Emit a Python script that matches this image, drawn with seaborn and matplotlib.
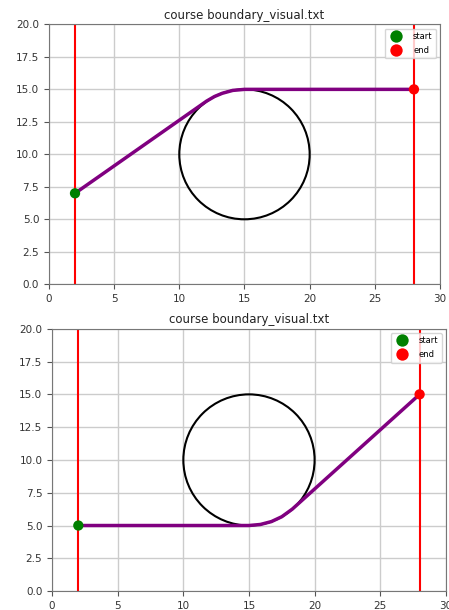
import numpy as np
import pandas as pd
import seaborn as sns
import matplotlib.pyplot as plt
from matplotlib.patches import Circle

# obstacle and boundaries
circle_center = (15, 10)
circle_radius = 5
boundary_x = [2, 28]

# path 1: start low-left, go over the top of the circle
path1_x = [2, 12.1, 12.7, 13.3, 14.1, 15, 28]
path1_y = [7, 14.1, 14.45, 14.7, 14.92, 15, 15]
start1 = (2, 7)
end1 = (28, 15)

# path 2: go along the bottom of the circle then up to the end
path2_x = [2, 15, 15.87, 16.71, 17.5, 18.3, 28]
path2_y = [5, 5, 5.08, 5.3, 5.67, 6.25, 15]
start2 = (2, 5)
end2 = (28, 15)

plt.rcParams['font.family'] = ['DejaVu Sans']

fig = plt.figure(figsize=(4.49, 6.10), dpi=100)
ax1 = fig.add_axes([0.109, 0.534, 0.871, 0.426])
ax2 = fig.add_axes([0.116, 0.031, 0.877, 0.430])


def draw(ax, px, py, start, end):
    for bx in boundary_x:
        ax.axvline(bx, color='red', lw=1.5, zorder=2)
    ax.add_patch(Circle(circle_center, circle_radius, fill=False, color='black', lw=1.5, zorder=3))
    df = pd.DataFrame({'x': px, 'y': py})
    sns.lineplot(data=df, x='x', y='y', sort=False, ax=ax, color='purple', lw=2.5, zorder=4)
    pts = pd.DataFrame({'x': [start[0], end[0]], 'y': [start[1], end[1]], 'label': ['start', 'end']})
    sns.scatterplot(data=pts, x='x', y='y', hue='label', palette={'start': 'green', 'end': 'red'},
                    s=55, edgecolor=None, linewidth=0, ax=ax, zorder=5)
    ax.set_xlim(0, 30)
    ax.set_ylim(0, 20)
    ax.set_xticks(np.arange(0, 31, 5))
    ax.set_yticks(np.arange(0, 20.1, 2.5))
    ax.set_yticklabels([f'{v:.1f}' for v in np.arange(0, 20.1, 2.5)])
    ax.grid(True, color='#cccccc', lw=1)
    ax.set_axisbelow(True)
    ax.set_xlabel('')
    ax.set_ylabel('')
    ax.tick_params(labelsize=7.5, color='#555555', labelcolor='#333333')
    for s in ax.spines.values():
        s.set_color('#777777')
    ax.set_title('course boundary_visual.txt', fontsize=8.5, pad=4, color='#222222')
    ax.legend(loc='upper right', fontsize=6, title=None, markerscale=1.2,
              handletextpad=1.0, labelspacing=0.6)


draw(ax1, path1_x, path1_y, start1, end1)
draw(ax2, path2_x, path2_y, start2, end2)

fig.savefig('out.png', dpi=100)
